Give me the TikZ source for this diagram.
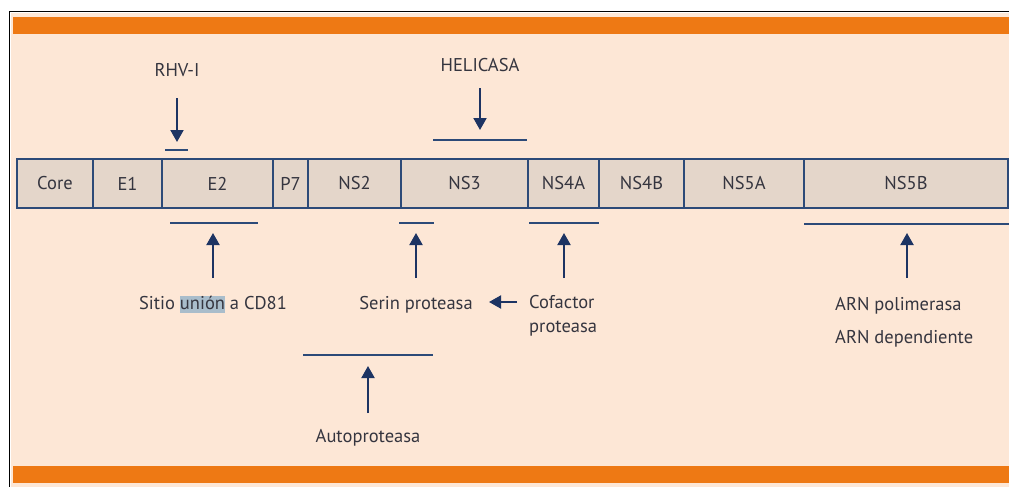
\documentclass[tikz,border=0pt]{standalone}
\usepackage{fontspec}
\setmainfont{PT Sans}
\usetikzlibrary{arrows.meta}
\definecolor{peach}{HTML}{FDE7D6}
\definecolor{band}{HTML}{EE7914}
\definecolor{segfill}{HTML}{E4D6CA}
\definecolor{navy}{HTML}{2C4A78}
\definecolor{arrowc}{HTML}{1D3463}
\definecolor{txt}{HTML}{35353F}
\definecolor{hl}{HTML}{A9BDCB}
\tikzset{
  seg/.style={draw=navy, line width=2pt, fill=segfill, minimum height=49pt, inner sep=0pt, font=\fontsize{18.5}{22}\selectfont, text=txt},
  lbl/.style={font=\fontsize{18.5}{24}\selectfont, text=txt, inner sep=0pt},
  regionmark/.style={draw=navy, line width=2pt},
  arr/.style={draw=arrowc, line width=2pt, -{Triangle[length=12pt,width=13pt]}},
}
\begin{document}
\begin{tikzpicture}[x=1pt,y=-1pt]
\useasboundingbox (0,0) rectangle (1009,487);
\fill[white] (0,0) rectangle (1009,487);
\fill[peach] (11,13) rectangle (1009,487);
\draw[black, line width=1.6pt] (9.5,487) -- (9.5,11.5) -- (1009,11.5);
\fill[band] (13,17) rectangle (1009,34);
\fill[band] (13,466) rectangle (1009,483);
% genome bar
\node[seg, minimum width=76pt] (core) at (55,183.5) {Core};
\node[seg, minimum width=69pt] (e1) at (127.5,183.5) {E1};
\node[seg, minimum width=111pt] (e2) at (217.5,183.5) {E2};
\node[seg, minimum width=35pt] (p7) at (290.5,183.5) {P7};
\node[seg, minimum width=93pt] (ns2) at (354.5,183.5) {NS2};
\node[seg, minimum width=127pt] (ns3) at (464.5,183.5) {NS3};
\node[seg, minimum width=71pt] (ns4a) at (563.5,183.5) {NS4A};
\node[seg, minimum width=85pt] (ns4b) at (641.5,183.5) {NS4B};
\node[seg, minimum width=120pt] (ns5a) at (744,183.5) {NS5A};
\node[seg, minimum width=204pt] (ns5b) at (906,183.5) {NS5B};
% region marks
\draw[regionmark] (165,150) -- (188,150);
\coordinate (mrhv) at (177,150);
\draw[regionmark] (433,140) -- (527,140);
\coordinate (mhel) at (480,140);
\draw[regionmark] (170,223) -- (258,223);
\coordinate (me2) at (213,223);
\draw[regionmark] (399,223) -- (434,223);
\coordinate (mns3) at (416,223);
\draw[regionmark] (529,223) -- (599,223);
\coordinate (mns4a) at (564,223);
\draw[regionmark] (804,223.5) -- (1009,223.5);
\coordinate (mns5b) at (907,223.5);
\draw[regionmark] (303,355) -- (433,355);
\coordinate (mauto) at (368,355);
% labels
\node[lbl, anchor=base] (rhv) at (177,77) {RHV-I};
\node[lbl, anchor=base] (hel) at (480,71) {HELICASA};
\node[lbl, anchor=base] (cd81) at (213,309) {Sitio {\fboxsep=0pt\colorbox{hl}{\rule[-4pt]{0pt}{17pt}unión}} a CD81};
\node[lbl, anchor=base] (serin) at (416,309) {Serin proteasa};
\node[lbl, anchor=base west, align=left] (cof) at (529,332) {Cofactor\\proteasa};
\node[lbl, anchor=base] (auto) at (368,442) {Autoproteasa};
\node[lbl, anchor=base west] (arn1) at (835,310) {ARN polimerasa};
\node[lbl, anchor=base west] (arn2) at (835,343) {ARN dependiente};
% arrows
\draw[arr] (177,98) -- (mrhv |- 0,142);
\draw[arr] (480,88) -- (mhel |- 0,130);
\draw[arr] (213,278) -- (me2 |- 0,233);
\draw[arr] (416,278) -- (mns3 |- 0,233);
\draw[arr] (564,278) -- (mns4a |- 0,233);
\draw[arr] (907,278) -- (mns5b |- 0,233);
\draw[arr] (368,413) -- (mauto |- 0,366);
\coordinate (cofarr) at (517,302);
\coordinate (serarr) at (489,302);
\draw[arr] (cofarr) -- (serarr);
\end{tikzpicture}
\end{document}
